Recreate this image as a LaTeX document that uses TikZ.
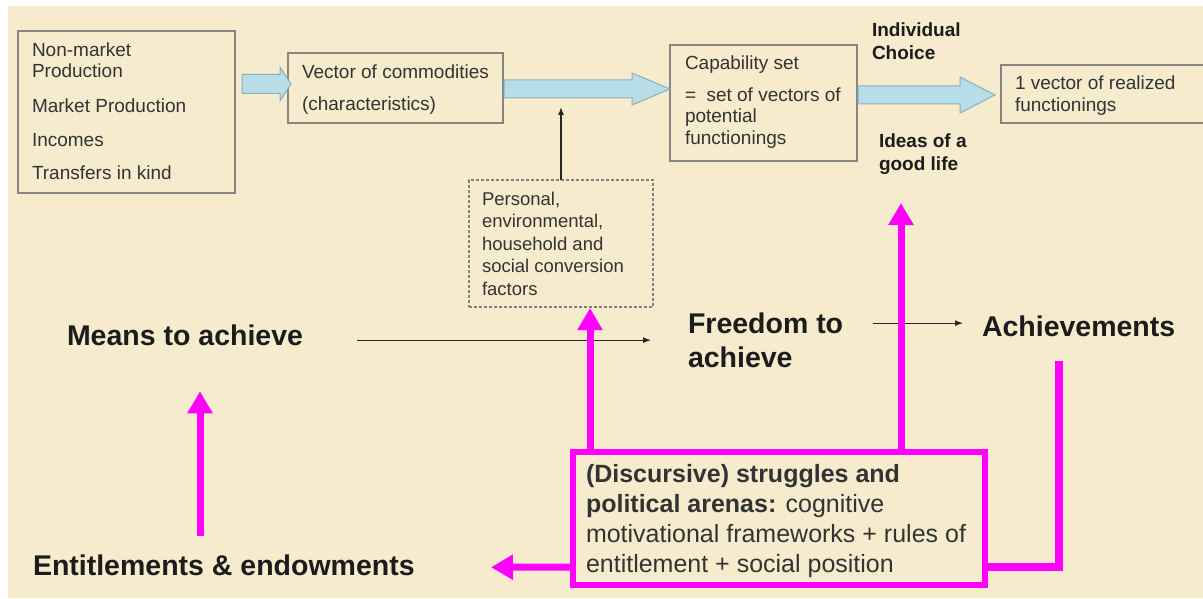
\documentclass[tikz,border=0pt]{standalone}
\usepackage{fontspec}
\setmainfont{Liberation Sans}
\usetikzlibrary{calc,arrows.meta}
\definecolor{bg}{HTML}{F6EBCD}
\definecolor{boxgray}{HTML}{858585}
\definecolor{arrfill}{HTML}{B7DEE8}
\definecolor{arrline}{HTML}{8DAFB8}
\definecolor{mag}{HTML}{FF00FF}
\definecolor{txt}{HTML}{333333}
\definecolor{txtb}{HTML}{1C1C1C}
% block arrow: #1 from anchor, #2 to anchor, #3 y (px), #4 start gap, #5 tip offset, #6 head length, #7 shaft half, #8 head half
\newcommand\blockarr[8]{%
  \filldraw[barrow] let \p1=(#1), \p2=(#2) in
    ({\x1+#4pt},{-#3pt+#7pt}) -- ({\x2+(#5pt)-#6pt},{-#3pt+#7pt}) --
    ({\x2+(#5pt)-#6pt},{-#3pt+#8pt}) -- ({\x2+(#5pt)},{-#3pt}) --
    ({\x2+(#5pt)-#6pt},{-#3pt-#8pt}) -- ({\x2+(#5pt)-#6pt},{-#3pt-#7pt}) --
    ({\x1+#4pt},{-#3pt-#7pt}) -- cycle;}
\begin{document}
\begin{tikzpicture}[x=1pt,y=-1pt,
  box/.style={draw=boxgray,line width=1.4pt,inner sep=0pt,outer sep=0pt,anchor=north west},
  dbox/.style={box,draw=gray,line width=1.2pt,dash pattern=on 3pt off 2pt},
  lbl/.style={inner sep=0pt,outer sep=0pt,anchor=north west,align=left,text=txt},
  sml/.style={font=\fontsize{19}{22}\selectfont},
  smb/.style={font=\fontsize{19}{23}\bfseries\selectfont,text=txtb},
  big/.style={font=\fontsize{28.5}{34}\bfseries\selectfont,text=txtb},
  barrow/.style={fill=arrfill,draw=arrline,line width=1pt},
  thinarr/.style={draw=black!85,line width=1.2pt,-{Latex[length=8pt,width=6pt]}},
  marr/.style={draw=mag,line width=7pt,-{Triangle[length=22pt,width=24pt]}},
  mline/.style={draw=mag,line width=8pt,line join=miter},
  sbox/.style={draw=mag,line width=6pt,inner sep=0pt,anchor=north west}]
\useasboundingbox (0,0) rectangle (1203,599);
\clip (0,0) rectangle (1203,599);
\fill[white] (0,0) rectangle (1203,599);
\fill[bg] (8,6) rectangle (1203,598);

% boxes
\node[box,minimum width=217pt,minimum height=162pt] (src) at (18,31) {};
\node[box,minimum width=215pt,minimum height=70pt] (vec) at (288,53) {};
\node[box,minimum width=187pt,minimum height=116pt] (cap) at (670,45) {};
\node[box,minimum width=260pt,minimum height=58pt] (real) at (1001,65) {};
\node[dbox,minimum width=184pt,minimum height=127pt] (fac) at (469,180) {};
\node[sbox,minimum width=412pt,minimum height=133pt] (str) at (570,449) {};

% box texts
\node[lbl,font=\fontsize{19}{21}\selectfont] (srcT) at (32,42)
  {\rule{0pt}{14pt}Non-market\\Production\\[15pt]Market Production\\[13pt]Incomes\\[12pt]Transfers in kind};
\node[lbl,font=\fontsize{19}{32}\selectfont] (vecT) at (302,65)
  {\rule{0pt}{14pt}Vector of commodities\\(characteristics)};
\node[lbl,sml] (capT) at (685,56)
  {\rule{0pt}{14pt}Capability set\\[10pt]=\hspace{0.55em}set of vectors of\\[-1pt]potential\\functionings};
\node[lbl,sml] (realT) at (1015,76)
  {\rule{0pt}{14pt}1 vector of realized\\functionings};
\node[lbl,font=\fontsize{18.5}{22.5}\selectfont] (facT) at (482,191.5)
  {\rule{0pt}{13.5pt}Personal,\\environmental,\\household and\\social conversion\\factors};
\node[lbl,smb] (indiv) at (872,23) {\rule{0pt}{14pt}Individual\\Choice};
\node[lbl,smb] (ideas) at (879,134) {\rule{0pt}{14pt}Ideas of a\\good life};
\node[lbl,font=\fontsize{25}{30}\selectfont] (strT) at (586,463)
  {\rule{0pt}{19pt}\textbf{(Discursive) struggles and}\\\textbf{political arenas:} cognitive\\motivational frameworks + rules of\\entitlement + social position};

% big labels
\node[lbl,big] (means) at (67,324) {\rule{0pt}{21pt}Means to achieve};
\node[lbl,big] (freedom) at (688,312) {\rule{0pt}{21pt}Freedom to\\achieve};
\node[lbl,big] (achv) at (982,315) {\rule{0pt}{21pt}Achievements};
\node[lbl,big] (ent) at (33,554) {\rule{0pt}{21pt}Entitlements \& endowments};

% block arrows
\blockarr{src.east}{vec.west}{84}{7}{3}{11}{9.5}{17}
\blockarr{vec.east}{cap.west}{89}{1}{0}{38}{9}{16}
\blockarr{cap.east}{real.west}{95}{1}{-6}{35}{9}{18}

% thin arrows
\draw[thinarr] (fac.north) -- ($(fac.north)+(0,-73)$);
\draw[thinarr] ($(means.east)+(54,5.5)$) -- ($(freedom.west)+(-37,0.5)$);
\draw[thinarr] ($(freedom.east)+(30,-16.5)$) -- ($(achv.west)+(-19,-2.5)$);

% magenta arrows
\draw[marr] ($(ent.north west)+(167,-18)$) -- ($(means.south west)+(133,46)$);
\draw[marr] ($(str.north west)+(20,0)$) -- ($(fac.south west)+(121,1)$);
\draw[marr] ($(str.north west)+(331,0)$) -- ($(ideas.south west)+(22,28)$);
\draw[mline] ($(achv.south west)+(77,25)$) |- ($(str.south east)+(0,-21)$);
\draw[marr] ($(str.south west)+(0,-21)$) -- ($(ent.south west)+(458,-8)$);
\end{tikzpicture}
\end{document}
